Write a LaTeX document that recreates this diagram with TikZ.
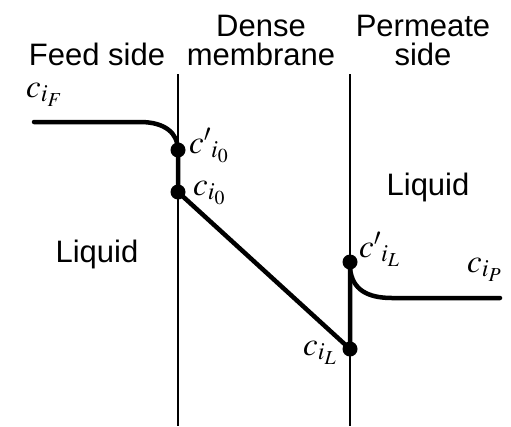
\documentclass[tikz,border=0pt]{standalone}
\usepackage{mathptmx}
\usepackage[no-math]{fontspec}
\setsansfont{Liberation Sans}
\usetikzlibrary{calc}

\tikzset{
  wall/.style={line width=1.4pt},
  profile/.style={line width=4.5pt,line cap=round},
  conc/.style={circle,fill=black,inner sep=0pt,minimum size=15pt},
  lbl/.style={font=\sffamily\fontsize{31}{30}\selectfont},
  cl/.style={font=\fontsize{33}{36}\selectfont,inner sep=0pt}
}

\begin{document}
\begin{tikzpicture}[x=1pt,y=-1pt]
    \useasboundingbox (0,0) rectangle (511,426);

    % Gambar dinding membran
    \draw[wall] (178,74)--(178,426);
    \draw[wall] (350,74)--(350,426);

    % Judul daerah
    \node[lbl,anchor=base] (feed) at (97,65) {Feed side};
    \node[lbl,anchor=base] (dense) at (261,36) {Dense};
    \node[lbl,anchor=base] (memb) at (261,65) {membrane};
    \node[lbl,anchor=base] (perm) at (423,36) {Permeate};
    \node[lbl,anchor=base] (pside) at (423,65) {side};
    \node[lbl,anchor=base] (liqa) at (97,262) {Liquid};
    \node[lbl,anchor=base] (liqb) at (428,195) {Liquid};

    % Titik konsentrasi
    \node[conc] (ci0p) at (178,150) {};
    \node[conc] (ci0) at (178,192) {};
    \node[conc] (ciLp) at (350,262) {};
    \node[conc] (ciL) at (350,349) {};

    % Profil konsentrasi
    \draw[profile] (34,122)--(140,122) .. controls (166,122) and (178,134) .. (ci0p.center)
        --(ci0.center)--(ciL.center)--(ciLp.center);
    \draw[profile] (350,268) .. controls (352,290) and (368,298) .. (392,298)--(500,298);

    % Label konsentrasi
    \node[cl,anchor=base west] (lF) at (26,97) {$c_{i_F}$};
    \node[cl,anchor=base west] (l0p) at (189,153) {$c'{}_{i_0}$};
    \node[cl,anchor=base west] (l0) at (193,195) {$c_{i_0}$};
    \node[cl,anchor=base west] (lL) at (303,355) {$c_{i_L}$};
    \node[cl,anchor=base west] (lLp) at (359,257) {$c'{}_{i_L}$};
    \node[cl,anchor=base west] (lP) at (467,272) {$c_{i_P}$};

\end{tikzpicture}
\end{document}
